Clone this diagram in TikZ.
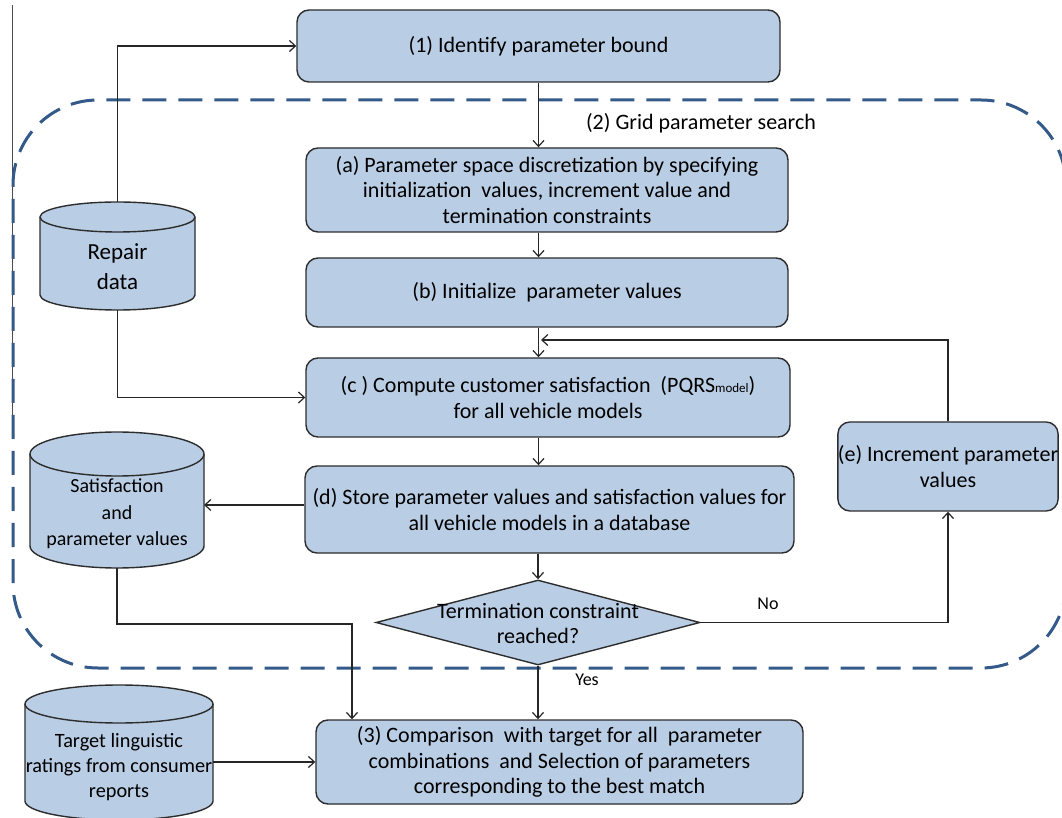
\documentclass[tikz,border=0pt]{standalone}
\usepackage{fontspec}
\setmainfont{Carlito}
\usetikzlibrary{arrows.meta,shapes.geometric,calc}
\pgfdeclarelayer{background}
\pgfsetlayers{background,main}
\definecolor{boxfill}{RGB}{185,205,229}
\definecolor{boxline}{RGB}{45,45,45}
\definecolor{dashblue}{RGB}{52,90,138}
\newcommand\mainfs{\fontsize{22}{25.5}\selectfont}
\newcommand\drawcyl[2]{%
  \path let \p1=(#1.north west), \p2=(#1.south east), \n1={(\x2-\x1)/2} in
    [cylshape] (\x1,\y1-#2pt) -- (\x1,\y2+#2pt)
    arc[start angle=180, end angle=360, x radius=\n1, y radius=#2pt]
    -- (\x2,\y1-#2pt)
    arc[start angle=0, end angle=180, x radius=\n1, y radius=#2pt] -- cycle;
  \path let \p1=(#1.north west), \p2=(#1.south east), \n1={(\x2-\x1)/2} in
    [cylshape] (\x1,\y1-#2pt)
    arc[start angle=180, end angle=360, x radius=\n1, y radius=#2pt];
}
\begin{document}
\begin{tikzpicture}[x=1pt,y=1pt,
  proc/.style={draw=boxline, fill=boxfill, line width=1.4pt, rounded corners=12pt,
    align=center, font=\mainfs, inner sep=0pt},
  cylnode/.style={inner sep=0pt, outer sep=0pt},
  cylshape/.style={draw=boxline, fill=boxfill, line width=1.4pt},
  cyltext/.style={align=center, font=\mainfs, inner sep=0pt},
  arr/.style={-{Straight Barb[length=6pt,width=11pt]}, line width=1.2pt, draw=black!85},
  lbl/.style={font=\fontsize{18}{20}\selectfont, inner sep=0pt},
  dashframe/.style={draw=dashblue, line width=3pt, dash pattern=on 24pt off 12pt, rounded corners=85pt}
]
\useasboundingbox (0,0) rectangle (1062,817);

% thin edge line
\draw[black!70, line width=0.8pt] (12,812) -- (12,387);

% dashed frame
\draw[dashframe] (13,149) rectangle (1066,717);
\node[font=\mainfs, inner sep=0pt] (gridlbl) at (701,694) {(2) Grid parameter search};

% process boxes
\node[proc, minimum width=483, minimum height=72] (one) at (538.5,771) {(1) Identify parameter bound};
\node[proc, minimum width=482, minimum height=84] (pa) at (547,627)
  {(a) Parameter space discretization by specifying\\initialization\ \ values, increment value and\\termination constraints};
\node[proc, minimum width=482, minimum height=69] (pb) at (547,524.5) {(b) Initialize\ \ parameter values};
\node[proc, minimum width=484, minimum height=79] (pc) at (548,419.5)
  {(c ) Compute customer satisfaction\ \ (PQRS{\fontsize{13}{13}\selectfont model})\\for all vehicle models};
\node[proc, minimum width=489, minimum height=87] (pd) at (549.5,307.5)
  {(d) Store parameter values and satisfaction values for\\all vehicle models in a database};
\node[proc, minimum width=218, minimum height=89] (pe) at (948,350.5)
  {(e) Increment parameter\\values};
\node[draw=boxline, fill=boxfill, line width=1.4pt, diamond, minimum width=324, minimum height=85, inner sep=0pt] (term) at (538,194.5) {};
\node[cyltext] (termtxt) at (538,193.5) {Termination constraint\\reached?};
\node[proc, minimum width=487, minimum height=84] (p3) at (559.5,55)
  {(3) Comparison\ \ with target for all\ \ parameter\\combinations\ \ and Selection of parameters\\corresponding to the best match};

% cylinders
\node[cylnode, minimum width=155, minimum height=108] (repair) at (117.5,561) {};
\node[cylnode, minimum width=174, minimum height=136] (sat) at (117,317) {};
\node[cylnode, minimum width=188, minimum height=135] (tgt) at (119,64.5) {};
\begin{pgfonlayer}{background}
  \fill[white] (0,0) rectangle (1062,817);
  \drawcyl{repair}{15}
  \drawcyl{sat}{22}
  \drawcyl{tgt}{19}
\end{pgfonlayer}
\node[cyltext, font=\fontsize{23}{30}\selectfont] (repairtxt) at (117.5,550) {Repair\\data};
\node[cyltext, font=\fontsize{20}{26.5}\selectfont] (sattxt) at (117,303) {Satisfaction\\and\\parameter values};
\node[cyltext, font=\fontsize{20.3}{25}\selectfont] (tgttxt) at (119,50) {Target linguistic\\ratings from consumer\\reports};

% connectors
\draw[arr] (repair.north) |- (one.west);
\draw[arr] (repair.south) |- (pc.west);
\draw[arr] (one.south) -- (pa.north -| one.south);
\draw[arr] (pa.south -| one.south) -- (pb.north -| one.south);
\draw[arr] (pb.south -| one.south) -- (pc.north -| one.south);
\coordinate (loopend) at (541,477);
\draw[arr] (pe.north) |- (loopend);
\draw[arr] (pc.south -| one.south) -- (pd.north -| one.south);
\draw[arr] (pd.west |- 0,312) -- (sat.east |- 0,312);
\draw[arr] (pd.south -| term.north) -- (term.north);
\draw[arr] (term.east) -| (pe.south);
\node[lbl] (nolbl) at (768,213) {No};
\draw[arr] (term.south) -- (p3.north -| term.south);
\node[lbl] (yeslbl) at (587,137) {Yes};
\coordinate (satturn) at (352,193);
\draw[arr] (sat.south) |- (satturn) -- (p3.north -| satturn);
\draw[arr] (tgt.east |- p3.west) -- (p3.west);
\end{tikzpicture}
\end{document}
